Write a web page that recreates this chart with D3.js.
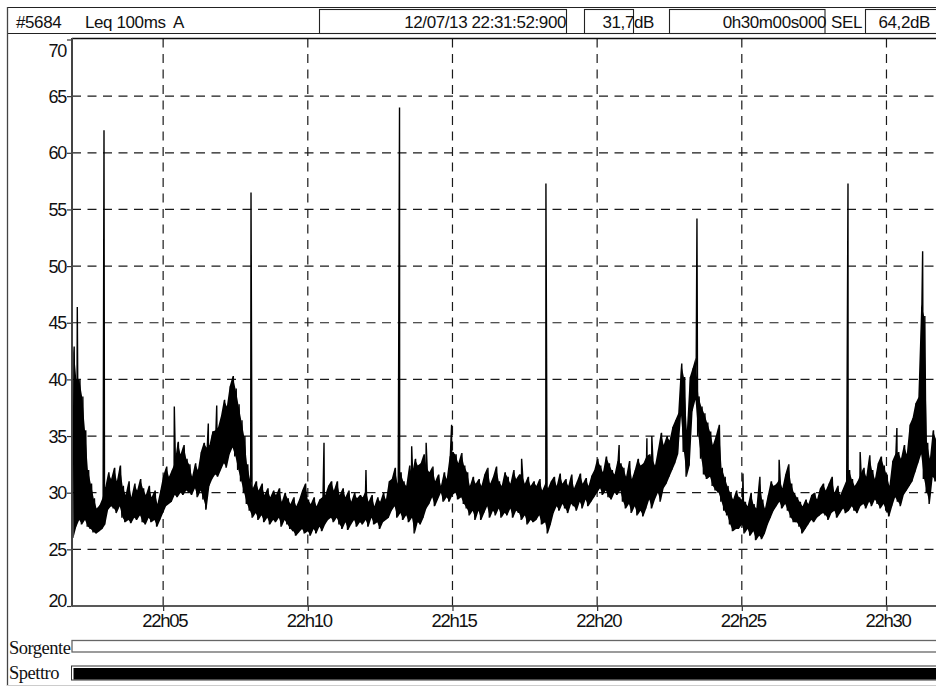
<!DOCTYPE html>
<html>
<head>
<meta charset="utf-8">
<script src="https://cdn.jsdelivr.net/npm/d3@7"></script>
<style>
  body { margin: 0; background: #fff; }
  svg { display: block; }
</style>
</head>
<body>
<svg id="chart" width="936" height="686"></svg>
<script>
// ---- measurement values -------------------------------------------------
const yTicks = [20, 25, 30, 35, 40, 45, 50, 55, 60, 65, 70];   // dB
const xTicks = [5, 10, 15, 20, 25, 30];                        // minutes after 22h00
const firstBinMinute = 1.85;   // 22:01:51 (minutes after 22h00)
const binMinutes = 0.1;        // each bin spans 6 s of 100 ms Leq samples

// Maximum Leq (dB A) in each 6 s bin, one row per minute
const levelMax = [
  42.9, 40, 40, 38.5, 35.5, 32, 30.8, 29.5, 28.6, 28.9,
  29.5, 30.5, 31.8, 31.2, 32.2, 31, 32.4, 30.6, 29.8, 31,
  29.6, 30.8, 30.2, 31.2, 30.4, 29.8, 30.6, 29.6, 30.2, 29,
  30.2, 31.5, 32.3, 31.4, 32, 32.6, 34.5, 33.4, 34.2, 33,
  32.5, 31.4, 32.6, 32, 33.6, 34.4, 34, 34.2, 35.4, 35.5,
  35.8, 36.8, 38.2, 37.6, 39.4, 40.3, 39.2, 37.8, 36.4, 35,
  32.5, 31.2, 30.4, 31, 30.2, 30.8, 29.8, 30.4, 29.6, 30.2,
  29.8, 30.4, 29.2, 30, 29.5, 29, 29.6, 28.8, 29.4, 30.2,
  30.8, 29.4, 29, 29.6, 28.8, 29.4, 29.6, 29.8, 30.6, 31,
  30.2, 31, 29.8, 30.4, 29.6, 30.2, 29.2, 30, 29.5, 29.8,
  29.6, 30.2, 29.2, 29.8, 28.8, 29.6, 29.2, 30, 29.4, 31,
  31.2, 32.2, 30.8, 31.8, 31, 30.6, 32.4, 31.6, 33, 32.4,
  32.6, 33.4, 32.2, 31.8, 32.3, 31, 31.6, 30.6, 31.8, 31.2,
  33.2, 33.6, 33.4, 32.6, 33.5, 32.4, 31.8, 30.6, 31.4, 30.8,
  31.2, 30.6, 31.6, 32.2, 30.8, 31.4, 32.3, 31, 30.6, 31.8,
  31.4, 30.8, 32, 31.2, 31.6, 31.6, 30.8, 31.4, 30.6, 31,
  30.6, 31.2, 30.2, 30.8, 30.4, 31, 31.4, 30.6, 31.7, 30.8,
  31.2, 30.6, 31.6, 30.4, 31, 31.7, 30.8, 31.3, 30.6, 31.5,
  32, 33, 32.4, 31.8, 33.2, 32.6, 32, 31.6, 32.8, 32.6,
  32.2, 31.4, 32.8, 31.2, 32, 33, 32.4, 32.6, 33.2, 33.4,
  33, 32.4, 33.8, 35.3, 34.2, 35, 34.6, 35.8, 36.4, 37,
  41.4, 40.2, 35.5, 40.2, 41, 41.9, 38.5, 37.6, 37, 36.2,
  35.4, 34.2, 35, 36, 32.2, 31.4, 30.6, 30, 29.4, 30.2,
  29.6, 29.4, 29.2, 28.8, 30, 29, 28.6, 31.4, 29.4, 28.6,
  29.8, 31, 30.6, 30.8, 31.2, 30.4, 31.6, 32.5, 30.8, 30,
  29.6, 29.2, 28.8, 29.4, 29, 29.8, 30, 29.4, 30.4, 30.8,
  30.2, 30.8, 31.4, 30, 30.6, 29.8, 30.4, 31, 32, 31.2,
  30.6, 31, 31.6, 32.2, 31.4, 33.3, 32, 31.2, 32.6, 33.2,
  32.4, 31.6, 30.6, 32.8, 33.4, 33.6, 33, 34.2, 33.4, 36,
  36.6, 37.9, 38.4, 46.6, 45.6, 34.4, 33, 35.5, 34.8, 33.6
];

// Minimum Leq (dB A) in each 6 s bin, one row per minute
const levelMin = [
  26, 27, 27.6, 27.2, 27.6, 27, 26.8, 26.5, 26.4, 26.6,
  26.8, 27.2, 28.5, 28.8, 28.6, 28.2, 28.8, 27.8, 27.4, 27.6,
  27.3, 27.8, 27.6, 28, 27.4, 27.2, 27.8, 27.4, 27.6, 27,
  27.6, 28.2, 28.8, 29, 29.2, 29.8, 29.6, 30, 29.8, 30.2,
  30, 29.8, 30.4, 29.6, 30.2, 29.4, 28.5, 30.6, 31.2, 31.6,
  31.4, 32, 32.6, 32.2, 33.4, 34, 33.2, 32, 31, 30,
  29, 28.4, 27.8, 28.2, 27.6, 28, 27.4, 27.8, 27.2, 27.6,
  27.4, 27.8, 27, 27.6, 27.2, 26.8, 26.6, 26.2, 26.5, 26.8,
  26.4, 26.6, 26.2, 26.8, 26.4, 27, 26.6, 27.2, 27.6, 27.8,
  27.4, 27.8, 27.2, 26.8, 27.4, 26.7, 27.2, 27.6, 27, 27.4,
  27.2, 27.6, 27, 27.8, 27.2, 27.4, 26.8, 27.4, 27.6, 27.8,
  28.4, 28.8, 27.8, 28.2, 27.6, 28, 27.4, 27.8, 26.4, 27.4,
  27.2, 27.8, 28.6, 29, 29.6, 28.8, 29.4, 30, 29.2, 29.6,
  29.2, 29.8, 30, 29.4, 29.6, 29, 28.6, 28, 28.4, 27.6,
  28.4, 27.6, 28.2, 28.8, 27.8, 28.4, 28, 28.6, 27.8, 28.2,
  28, 28.6, 27.8, 28.4, 28.2, 27.6, 28, 27.2, 27.6, 27.4,
  27.6, 28, 27.2, 27.4, 26.4, 27.2, 28.2, 28.8, 28.4, 29,
  28.6, 28.2, 29, 28.8, 28.4, 29.2, 28.6, 29.4, 28.8, 29.2,
  29.6, 30, 30.4, 29.8, 30.2, 29.6, 29.4, 30, 29.8, 30.2,
  29.2, 28.6, 29, 28.2, 28.8, 28, 28.4, 27.9, 28.6, 29.4,
  28.6, 29.4, 30, 29.2, 30.4, 30.8, 31.4, 32, 32.6, 33.4,
  36.8, 33.6, 31.4, 32.4, 37.2, 38.2, 35, 33, 31.6, 31.2,
  31.4, 30.6, 30.2, 30, 29.2, 28.4, 28, 27.2, 26.6, 26.8,
  26.8, 27.2, 26.4, 26.8, 26.2, 26.6, 25.8, 26.2, 25.9, 26.4,
  27.2, 27.8, 28.4, 28.8, 29.2, 28.6, 29, 28.4, 27.8, 27.4,
  27.4, 27, 26.4, 26.8, 27.2, 27.6, 27.4, 27.8, 28, 28.2,
  28, 27.6, 28.2, 28.4, 27.8, 28.2, 28.6, 28.2, 28.4, 28.8,
  28.4, 28.2, 28.8, 29, 28.6, 29.2, 28.8, 29.4, 29, 28.6,
  29, 28.4, 27.9, 28.8, 29.6, 29.2, 28.8, 29.8, 30.2, 30.6,
  31, 31.8, 32.6, 33.4, 31.2, 30, 29, 31.4, 31, 30.8
];

// Isolated short events (single 100 ms samples): time in minutes after 22h00, level
const spikeMinutes = [
  2.033, 2.956, 5.386, 6.561, 6.852, 8.037, 10.56, 12.01,
  13.17, 13.59, 14.09, 14.97, 17.39, 18.23, 20.76, 21.72,
  21.89, 23.45, 25.04, 26.29, 28.67, 29.09, 30.36, 31.25
];
const spikeLevels = [
  46.4, 62.0, 37.6, 36.1, 37.7, 56.5, 34.4, 32.0,
  64.0, 34.1, 34.4, 36.0, 33.0, 57.3, 34.2, 34.8,
  35.0, 54.2, 31.7, 32.9, 57.3, 33.6, 35.7, 51.3
];

// Header fields
const recordId = "#5684";
const measure = "Leq 100ms";
const weighting = "A";
const cursorTime = "12/07/13 22:31:52:900";
const cursorValue = "31,7";
const duration = "0h30m00s000";
const selValue = "64,2";

// ---- layout --------------------------------------------------------------
const W = 936, H = 686;
const plot = { left: 72, right: 940, top: 39.5, bottom: 606 };
const SANS = "'Liberation Sans', Arial, Helvetica, sans-serif";
const SERIF = "'Liberation Serif', 'Times New Roman', serif";

const svg = d3.select("#chart");

const x = d3.scaleLinear()
  .domain([firstBinMinute, firstBinMinute + levelMax.length * binMinutes])
  .range([plot.left, plot.right]);
const y = d3.scaleLinear().domain([20, 70]).range([plot.bottom, plot.top]);

// ---- header bar ------------------------------------------------------------
const header = svg.append("g");
header.append("line").attr("x1", 7).attr("x2", W).attr("y1", 7.5).attr("y2", 7.5)
  .attr("stroke", "#222").attr("stroke-width", 1.2);
header.append("line").attr("x1", 7).attr("x2", W).attr("y1", 33.5).attr("y2", 33.5)
  .attr("stroke", "#222").attr("stroke-width", 1.2);
const boxes = [[319.5, 566.5], [584.5, 633.5], [669.5, 825], [865.5, 990]];
header.selectAll("rect.box").data(boxes).join("rect")
  .attr("class", "box")
  .attr("x", d => d[0]).attr("y", 9.5)
  .attr("width", d => d[1] - d[0]).attr("height", 24)
  .attr("fill", "none").attr("stroke", "#222").attr("stroke-width", 1.1);

const headerText = (txt, xPos, anchor) => header.append("text")
  .attr("x", xPos).attr("y", 27.5).attr("text-anchor", anchor || "start")
  .attr("font-family", SANS).attr("font-size", 17).attr("letter-spacing", "-0.4px")
  .attr("fill", "#111").text(txt);
headerText(recordId, 16);
headerText(measure, 85);
headerText(weighting, 173);
headerText(cursorTime, 566, "end");
headerText(cursorValue, 634, "end");
headerText("dB", 634);
headerText(duration, 826, "end");
headerText("SEL", 831);
headerText(selValue, 910, "end");
headerText("dB", 910);

// ---- grid -------------------------------------------------------------------
const grid = svg.append("g").attr("stroke", "#1a1a1a").attr("stroke-width", 1.2)
  .attr("stroke-dasharray", "9,6.5");
grid.selectAll("line.h").data(yTicks.filter(v => v > 20 && v < 70)).join("line")
  .attr("class", "h")
  .attr("x1", plot.left).attr("x2", W)
  .attr("y1", d => y(d)).attr("y2", d => y(d));
grid.selectAll("line.v").data(xTicks).join("line")
  .attr("class", "v")
  .attr("x1", d => x(d)).attr("x2", d => x(d))
  .attr("y1", plot.top - 1).attr("y2", plot.bottom);

// ---- level trace ------------------------------------------------------------
// min/max envelope per bin, then a zig-zag through the bin extremes and events
const bins = levelMax.map((hi, i) => ({
  t: firstBinMinute + (i + 0.5) * binMinutes, lo: levelMin[i], hi
}));
const points = [];
levelMax.forEach((hi, i) => {
  const t0 = firstBinMinute + i * binMinutes;
  points.push({ t: t0 + binMinutes * 0.25, v: levelMin[i] });
  points.push({ t: t0 + binMinutes * 0.75, v: hi });
});
spikeMinutes.forEach((t, i) => points.push({ t, v: spikeLevels[i] }));
points.sort((a, b) => a.t - b.t);

svg.append("clipPath").attr("id", "plotClip").append("rect")
  .attr("x", plot.left).attr("y", plot.top)
  .attr("width", plot.right - plot.left).attr("height", plot.bottom - plot.top);

const trace = svg.append("g").attr("clip-path", "url(#plotClip)");
trace.append("path")
  .datum(bins)
  .attr("fill", "#000")
  .attr("d", d3.area().x(d => x(d.t)).y0(d => y(d.lo)).y1(d => y(d.hi)));
trace.append("path")
  .datum(points)
  .attr("fill", "none")
  .attr("stroke", "#000")
  .attr("stroke-width", 1.4)
  .attr("stroke-linejoin", "bevel")
  .attr("d", d3.line().x(d => x(d.t)).y(d => y(d.v)));

// ---- frame ------------------------------------------------------------------
svg.append("line").attr("x1", plot.left).attr("x2", W)
  .attr("y1", plot.top - 1).attr("y2", plot.top - 1)
  .attr("stroke", "#111").attr("stroke-width", 1.3);
svg.append("line").attr("x1", plot.left).attr("x2", W)
  .attr("y1", plot.bottom).attr("y2", plot.bottom)
  .attr("stroke", "#222").attr("stroke-width", 1.4);
svg.append("line").attr("x1", plot.left).attr("x2", plot.left)
  .attr("y1", plot.top - 1.5).attr("y2", plot.bottom + 0.7)
  .attr("stroke", "#444").attr("stroke-width", 2);

// ---- axes -------------------------------------------------------------------
const gy = svg.append("g").attr("transform", `translate(${plot.left - 1},0)`)
  .call(d3.axisLeft(y).tickValues(yTicks).tickSize(4).tickPadding(1).tickFormat(d3.format("d")));
gy.select(".domain").remove();
gy.selectAll(".tick line").attr("stroke", "#333").attr("stroke-width", 1.2);
gy.selectAll(".tick text")
  .attr("font-family", SANS).attr("font-size", 18).attr("letter-spacing", "-1.2px")
  .attr("fill", "#111")
  .attr("dy", d => d === 70 ? "0.95em" : d === 20 ? "0em" : "0.34em");

const gx = svg.append("g").attr("transform", `translate(0,${plot.bottom})`)
  .call(d3.axisBottom(x).tickValues(xTicks).tickSize(5).tickPadding(3)
    .tickFormat(d => "22h" + d3.format("02d")(d)));
gx.select(".domain").remove();
gx.selectAll(".tick line").attr("stroke", "#333").attr("stroke-width", 1.2);
gx.selectAll(".tick text")
  .attr("font-family", SANS).attr("font-size", 18.5).attr("letter-spacing", "-1.3px")
  .attr("fill", "#111").attr("dx", "1");

// ---- source / spectrum rows ----------------------------------------------------
const rows = svg.append("g");
rows.append("text").attr("x", 9).attr("y", 654)
  .attr("font-family", SERIF).attr("font-size", 18.5).attr("letter-spacing", "-0.5px")
  .attr("fill", "#111").text("Sorgente");
rows.append("rect").attr("x", plot.left).attr("y", 640.5)
  .attr("width", W - plot.left + 10).attr("height", 11.5)
  .attr("fill", "#fff").attr("stroke", "#666").attr("stroke-width", 1.3);

rows.append("text").attr("x", 9).attr("y", 679)
  .attr("font-family", SERIF).attr("font-size", 18.5).attr("letter-spacing", "-0.5px")
  .attr("fill", "#111").text("Spettro");
rows.append("rect").attr("x", plot.left - 0.5).attr("y", 666)
  .attr("width", W - plot.left + 10).attr("height", 14)
  .attr("fill", "#fff").attr("stroke", "#333").attr("stroke-width", 1);
rows.append("rect").attr("x", plot.left + 1.5).attr("y", 668)
  .attr("width", W - plot.left).attr("height", 11.5)
  .attr("fill", "#000");

// ---- outer border ------------------------------------------------------------
svg.append("line").attr("x1", 7.5).attr("x2", 7.5).attr("y1", 7).attr("y2", H)
  .attr("stroke", "#444").attr("stroke-width", 1.3);
svg.append("line").attr("x1", 7).attr("x2", W).attr("y1", 685.5).attr("y2", 685.5)
  .attr("stroke", "#ccc").attr("stroke-width", 1);
</script>
</body>
</html>
